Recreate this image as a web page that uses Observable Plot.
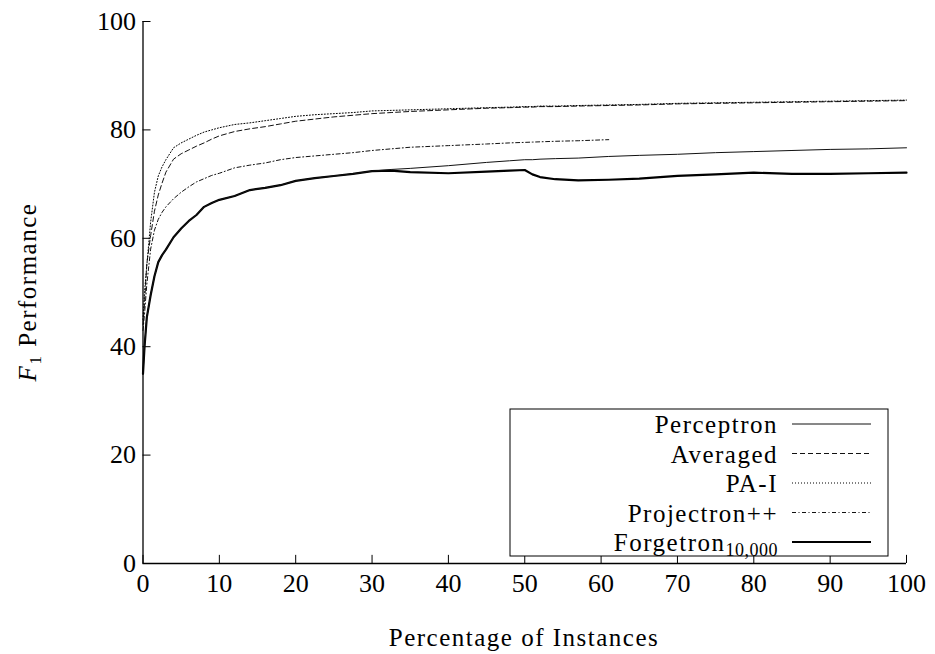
<!DOCTYPE html>
<html><head><meta charset="utf-8">
<script src="https://cdn.jsdelivr.net/npm/d3@7"></script>
<script src="https://cdn.jsdelivr.net/npm/@observablehq/plot@0.6"></script>
<style>body{margin:0;background:#fff}</style>
</head><body><div id="chart"></div>
<script>
// shared x positions (percentage of instances)
const xGrid = [0, 0.2, 0.5, 1, 1.5, 2, 2.5, 3, 4, 5, 6, 7, 8, 9, 10, 12, 14, 16, 18, 20, 22.5, 25, 27.5, 30, 32.5, 35, 40, 45, 48, 50, 51, 52, 54, 57, 61, 65, 70, 75, 80, 85, 90, 95, 100];

const forgetron = [35, 40, 45.4, 49.5, 53, 55.6, 56.9, 57.9, 60.2, 61.8, 63.2, 64.3, 65.8, 66.5, 67.1, 67.8, 68.9, 69.3, 69.8, 70.6, 71.1, 71.5, 71.9, 72.4, 72.5, 72.2, 72.0, 72.3, 72.5, 72.6, 71.8, 71.3, 70.9, 70.7, 70.8, 71.0, 71.5, 71.8, 72.1, 71.9, 71.9, 72.0, 72.1];

const perceptron = [35, 40, 45.4, 49.5, 53, 55.6, 56.9, 57.9, 60.2, 61.8, 63.2, 64.3, 65.8, 66.5, 67.1, 67.8, 68.9, 69.3, 69.8, 70.6, 71.1, 71.5, 71.9, 72.4, 72.7, 72.9, 73.4, 74.0, 74.3, 74.5, 74.5, 74.6, 74.7, 74.8, 75.1, 75.3, 75.5, 75.8, 76.0, 76.2, 76.4, 76.5, 76.7];

const averaged = [44, 48, 55.3, 60.5, 65, 68, 70.2, 72.2, 74.6, 75.6, 76.3, 77, 77.6, 78.3, 78.9, 79.7, 80.2, 80.6, 81.1, 81.6, 82, 82.4, 82.7, 83, 83.2, 83.4, 83.7, 84.0, 84.1, 84.2, 84.2, 84.3, 84.3, 84.4, 84.5, 84.6, 84.8, 84.9, 85.0, 85.1, 85.2, 85.3, 85.4];

const paI = [45, 50, 55, 63, 68.5, 71.5, 73.2, 74.5, 76.7, 77.6, 78.3, 79, 79.6, 80, 80.4, 81, 81.3, 81.7, 82.1, 82.5, 82.8, 83.0, 83.2, 83.5, 83.6, 83.7, 83.9, 84.1, 84.2, 84.3, 84.3, 84.4, 84.4, 84.5, 84.6, 84.7, 84.9, 85.0, 85.1, 85.2, 85.3, 85.4, 85.5];

const projectron = [43, 46, 51.5, 58, 61.5, 63.5, 64.8, 65.8, 67.3, 68.5, 69.5, 70.4, 71, 71.6, 72, 73, 73.5, 73.9, 74.5, 74.9, 75.2, 75.5, 75.8, 76.2, 76.5, 76.8, 77.1, 77.4, 77.6, 77.7, 77.75, 77.8, 77.9, 78.0, 78.2, null, null, null, null, null, null, null, null];

const xTicks = [0, 10, 20, 30, 40, 50, 60, 70, 80, 90, 100];
const yTicks = [0, 20, 40, 60, 80, 100];
const legendLabels = ["Perceptron", "Averaged", "PA-I", "Projectron++", "Forgetron"];

const rows = arr => xGrid.map((x, i) => ({x, y: arr[i]})).filter(d => d.y != null);

const lineStyles = {
  "Perceptron": {stroke: "#111", strokeWidth: 1},
  "Averaged": {stroke: "#111", strokeWidth: 1, strokeDasharray: "5,3"},
  "PA-I": {stroke: "#000", strokeWidth: 1, strokeDasharray: "1,2"},
  "Projectron++": {stroke: "#111", strokeWidth: 1, strokeDasharray: "4,2.5,1,2.5"},
  "Forgetron": {stroke: "#000", strokeWidth: 2.2}
};
const seriesData = {
  "Perceptron": perceptron,
  "Averaged": averaged,
  "PA-I": paI,
  "Projectron++": projectron,
  "Forgetron": forgetron
};

const FONT = "'Liberation Serif', 'DejaVu Serif', serif";

const plot = Plot.plot({
  width: 935,
  height: 654,
  marginLeft: 142.5,
  marginRight: 29,
  marginTop: 21,
  marginBottom: 91,
  style: {fontFamily: FONT, fontSize: "26px", color: "black", background: "white"},
  x: {domain: [0, 100]},
  y: {domain: [0, 100]},
  marks: [
    Plot.axisX({ticks: xTicks, tickSize: 0, tickPadding: 10, label: null, tickFormat: d => d}),
    Plot.axisY({ticks: yTicks, tickSize: 0, tickPadding: 7, label: null, tickFormat: d => d}),
    Plot.ruleX(xTicks, {x: d => d, y1: 0, y2: 1.5, stroke: "black", strokeWidth: 1}),
    Plot.ruleY(yTicks, {y: d => d, x1: 0, x2: 1.05, stroke: "black", strokeWidth: 1}),
    ...["Forgetron", "Averaged", "PA-I", "Projectron++", "Perceptron"].map(name =>
      Plot.line(rows(seriesData[name]), {x: "x", y: "y", ...lineStyles[name]})
    ),
    Plot.ruleX([0], {stroke: "black", strokeWidth: 1.3}),
    Plot.ruleY([0], {stroke: "black", strokeWidth: 1.3})
  ]
});
document.getElementById("chart").append(plot);

const svg = d3.select(plot);
// axis titles
svg.append("text")
  .attr("x", 524).attr("y", 646)
  .attr("text-anchor", "middle")
  .style("font-family", FONT).style("font-size", "25px").style("letter-spacing", "1.5px")
  .text("Percentage of Instances");

const yl = svg.append("text")
  .attr("transform", "translate(36,292) rotate(-90)")
  .attr("text-anchor", "middle")
  .style("font-family", FONT).style("font-size", "25px").style("letter-spacing", "1.5px");
yl.append("tspan").style("font-style", "italic").text("F");
yl.append("tspan").attr("dy", 5).style("font-size", "17px").text("1");
yl.append("tspan").attr("dy", -5).text(" Performance");

// legend
const lg = svg.append("g");
lg.append("rect")
  .attr("x", 510).attr("y", 409).attr("width", 378).attr("height", 147)
  .attr("fill", "white").attr("stroke", "black").attr("stroke-width", 1);
legendLabels.forEach((name, i) => {
  const y = 424 + i * 29.5;
  const t = lg.append("text")
    .attr("x", 778).attr("y", y + 9)
    .attr("text-anchor", "end")
    .style("font-family", FONT).style("font-size", "25px").style("letter-spacing", "1.5px");
  if (name === "Forgetron") {
    t.append("tspan").text("Forgetron");
    t.append("tspan").attr("dy", 5).style("font-size", "18px").style("letter-spacing", "0.5px").text("10,000");
  } else {
    t.text(name);
  }
  const s = lineStyles[name];
  lg.append("line")
    .attr("x1", 792).attr("x2", 871).attr("y1", y).attr("y2", y)
    .attr("stroke", s.stroke).attr("stroke-width", s.strokeWidth)
    .attr("stroke-dasharray", s.strokeDasharray || null);
});
</script>
</body></html>
